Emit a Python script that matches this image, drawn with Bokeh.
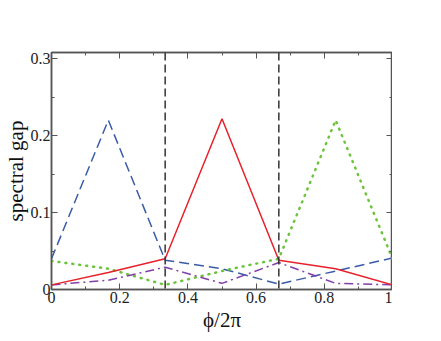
from bokeh.plotting import figure
from bokeh.models import Range1d, LinearAxis, FixedTicker, Span, CustomJSTickFormatter
from bokeh.embed import file_html
from bokeh.resources import INLINE

x = [0, 1/6, 1/3, 1/2, 2/3, 5/6, 1]
red = [0.006, 0.022, 0.040, 0.222, 0.038, 0.027, 0.006]
blue = [0.040, 0.220, 0.038, 0.027, 0.007, 0.024, 0.041]
green = [0.037, 0.027, 0.006, 0.024, 0.040, 0.220, 0.040]
purple = [0.006, 0.012, 0.029, 0.008, 0.035, 0.008, 0.006]
vlines = [1/3, 2/3]
xticks = [0, 0.2, 0.4, 0.6, 0.8, 1]
yticks = [0, 0.1, 0.2, 0.3]

p = figure(width=425, height=325, output_backend="svg", toolbar_location=None,
           x_range=Range1d(0, 1), y_range=Range1d(0, 0.308),
           frame_width=341, frame_height=237,
           min_border_left=50, min_border_top=52, min_border_right=0, min_border_bottom=0)
p.grid.visible = False
p.outline_line_color = "#555555"
p.outline_line_width = 1.5
p.background_fill_color = "white"
p.border_fill_color = "white"

fmt = CustomJSTickFormatter(code="return tick == 0 ? '0' : (tick == 1 ? '1' : tick.toFixed(1));")

for ax, ticks, minor in [(p.xaxis[0], xticks, [0.1, 0.3, 0.5, 0.7, 0.9]),
                         (p.yaxis[0], yticks, [0.05, 0.15, 0.25])]:
    ax.ticker = FixedTicker(ticks=ticks, minor_ticks=minor)
    ax.formatter = fmt
    ax.major_tick_in = 6
    ax.major_tick_out = 0
    ax.minor_tick_in = 3
    ax.minor_tick_out = 0
    ax.axis_line_color = "#555555"
    ax.axis_line_width = 1.5
    ax.major_tick_line_color = "#555555"
    ax.minor_tick_line_color = "#555555"
    ax.major_label_text_font = "Liberation Serif"
    ax.major_label_text_font_size = "16px"
    ax.major_label_text_color = "#222222"
    ax.axis_label_text_font = "Liberation Serif"
    ax.axis_label_text_font_size = "21px"
    ax.axis_label_text_font_style = "normal"
    ax.axis_label_text_color = "#111111"

p.xaxis[0].major_label_standoff = 2
p.xaxis[0].axis_label_standoff = 2
p.yaxis[0].major_label_standoff = 1
p.yaxis[0].axis_label_standoff = 0

p.xaxis[0].axis_label = "ϕ/2π"
p.yaxis[0].axis_label = "spectral gap"

for loc, ticks, minor in [("above", xticks, [0.1, 0.3, 0.5, 0.7, 0.9]),
                          ("right", yticks, [0.05, 0.15, 0.25])]:
    ax = LinearAxis(ticker=FixedTicker(ticks=ticks, minor_ticks=minor))
    ax.major_label_text_font_size = "0px"
    ax.major_label_text_alpha = 0
    ax.major_label_standoff = 0
    ax.major_tick_in = 6
    ax.major_tick_out = 0
    ax.minor_tick_in = 3
    ax.minor_tick_out = 0
    ax.axis_line_color = "#555555"
    ax.axis_line_width = 1.5
    ax.major_tick_line_color = "#555555"
    ax.minor_tick_line_color = "#555555"
    p.add_layout(ax, loc)

for v in vlines:
    p.add_layout(Span(location=v, dimension="height", line_color="#333333",
                      line_width=1.5, line_dash="8 4"))

p.line(x, blue, line_color="#3a5ba8", line_width=1.5, line_dash="10 5")
p.line(x, green, line_color="#6cc43c", line_width=2.5, line_dash="1 6", line_cap="round")
p.line(x, purple, line_color="#8040a8", line_width=1.5, line_dash="9 4 2 4")
p.line(x, red, line_color="#e8202a", line_width=1.5)

open("out.html", "w").write(file_html(p, INLINE))
